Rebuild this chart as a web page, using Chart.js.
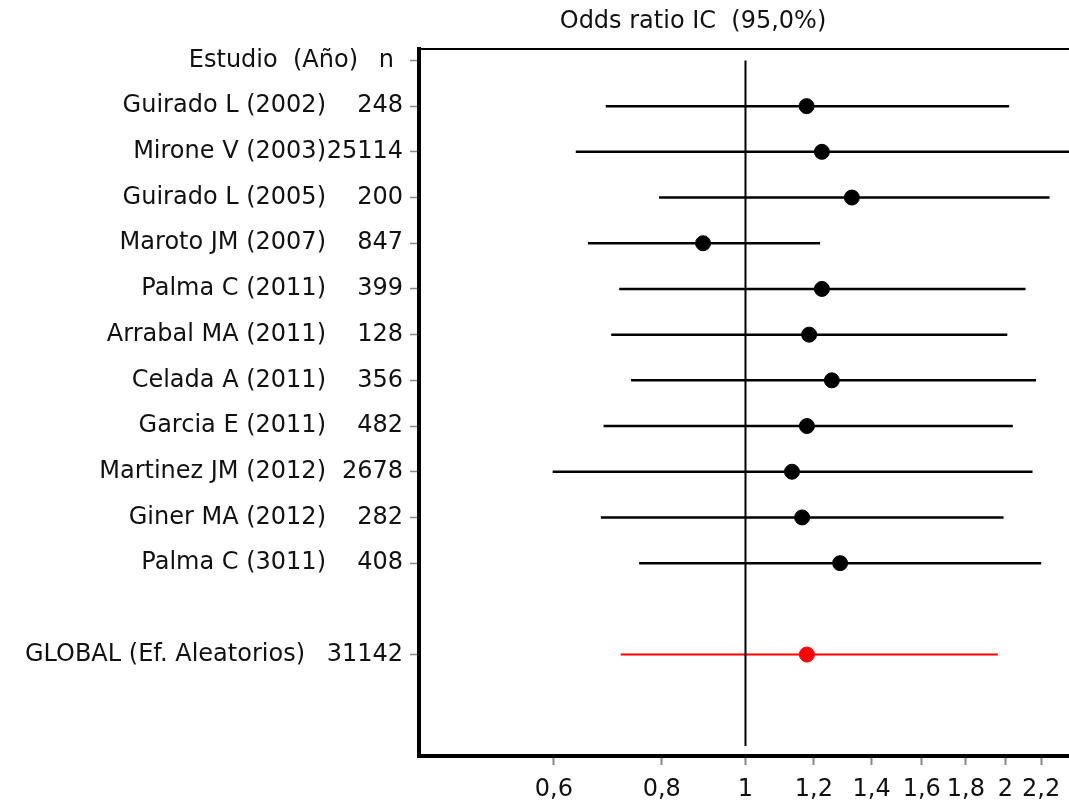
<!DOCTYPE html>
<html>
<head>
<meta charset="utf-8">
<script src="https://cdn.jsdelivr.net/npm/chart.js@4.4.1/dist/chart.umd.min.js"></script>
<style>
  html, body { margin: 0; padding: 0; background: #fff; }
  #wrap { width: 1069px; height: 802px; position: relative; }
</style>
</head>
<body>
<div id="wrap"><canvas id="forestChart"></canvas></div>
<script>
// Datos

const studies = ['Guirado L (2002)', 'Mirone V (2003)', 'Guirado L (2005)', 'Maroto JM (2007)',
    'Palma C (2011)', 'Arrabal MA (2011)', 'Celada A (2011)', 'Garcia E (2011)',
    'Martinez JM (2012)', 'Giner MA (2012)', 'Palma C (3011)'];
const nValues = [248, 25114, 200, 847, 399, 128, 356, 482, 2678, 282, 408];
const oddsRatio = [1.177, 1.226, 1.328, 0.893, 1.226, 1.185, 1.259, 1.178, 1.132, 1.163, 1.287];
const ciLow = [0.689, 0.636, 0.794, 0.657, 0.714, 0.699, 0.737, 0.685, 0.598, 0.680, 0.753];
const ciHigh = [2.02, 2.40, 2.25, 1.22, 2.11, 2.01, 2.17, 2.04, 2.15, 1.99, 2.20];

const globalLabel = 'GLOBAL (Ef. Aleatorios)';
const globalN = 31142;
const globalOR = 1.178;
const globalLow = 0.717;
const globalHigh = 1.96;

const xTicks = [0.6, 0.8, 1, 1.2, 1.4, 1.6, 1.8, 2, 2.2];
const globalRow = 13;

const FONT = 'DejaVu Sans';

// Series

const datasets = [];

// linea vertical en OR = 1
datasets.push({
    data: [{ x: 1, y: 0 }, { x: 1, y: 15 }],
    showLine: true,
    borderColor: '#000',
    borderWidth: 2,
    pointRadius: 0
});

studies.forEach((s, i) => {
    datasets.push({
        data: [{ x: ciLow[i], y: i + 1 }, { x: ciHigh[i], y: i + 1 }],
        showLine: true,
        borderColor: '#000',
        borderWidth: 2.5,
        pointRadius: 0
    });
});

datasets.push({
    data: [{ x: globalLow, y: globalRow }, { x: globalHigh, y: globalRow }],
    showLine: true,
    borderColor: '#ff0000',
    borderWidth: 2,
    pointRadius: 0
});

datasets.push({
    data: oddsRatio.map((v, i) => ({ x: v, y: i + 1 })),
    showLine: false,
    pointRadius: 7.5,
    pointBackgroundColor: '#000',
    pointBorderColor: '#000',
    pointBorderWidth: 1
});

datasets.push({
    data: [{ x: globalOR, y: globalRow }],
    showLine: false,
    pointRadius: 7.5,
    pointBackgroundColor: '#ff0000',
    pointBorderColor: '#ff0000',
    pointBorderWidth: 1
});

// Etiquetas de la izquierda y titulo

const labelsPlugin = {
    id: 'forestLabels',
    afterDraw(chart) {
        const ctx = chart.ctx;
        const y = chart.scales.y;
        ctx.save();
        ctx.fillStyle = '#111';
        ctx.font = '24px "' + FONT + '"';
        ctx.textBaseline = 'middle';

        ctx.textAlign = 'center';
        ctx.fillText('Odds ratio IC  (95,0%)', 693, 22);

        ctx.textAlign = 'right';
        ctx.fillText('Estudio  (Año)', 358, y.getPixelForValue(0));
        ctx.fillText('n', 394, y.getPixelForValue(0));

        studies.forEach((s, i) => {
            const py = y.getPixelForValue(i + 1);
            ctx.fillText(s, 326, py);
            ctx.fillText(String(nValues[i]), 403, py);
        });

        const gy = y.getPixelForValue(globalRow);
        ctx.fillText(globalLabel, 305, gy);
        ctx.fillText(String(globalN), 403, gy);
        ctx.restore();
    }
};

// Configuraciones

const config = {
    type: 'scatter',
    data: { datasets: datasets },
    options: {
        responsive: true,
        maintainAspectRatio: false,
        animation: false,
        layout: {
            autoPadding: false,
            padding: { left: 410, top: 49, right: 0, bottom: 0 }
        },
        plugins: {
            legend: { display: false },
            tooltip: { enabled: false },
            title: { display: false }
        },
        scales: {
            x: {
                type: 'logarithmic',
                min: 0.4187,
                max: 2.3695,
                afterBuildTicks: (scale) => {
                    scale.ticks = xTicks.map(v => ({ value: v }));
                },
                afterFit: (scale) => {
                    scale.paddingLeft = 0;
                    scale.paddingRight = 0;
                    scale.height = 46;
                },
                ticks: {
                    autoSkip: false,
                    maxRotation: 0,
                    padding: 13,
                    color: '#111',
                    font: { family: FONT, size: 24, lineHeight: 1 },
                    callback: (v) => String(v).replace('.', ',')
                },
                grid: {
                    drawOnChartArea: false,
                    tickLength: 9,
                    tickColor: '#888',
                    tickWidth: 2
                },
                border: { color: '#000', width: 4 }
            },
            x2: {
                type: 'linear',
                position: 'top',
                min: 0,
                max: 1,
                ticks: { display: false },
                grid: { drawOnChartArea: false, drawTicks: false },
                border: { color: '#000', width: 2 }
            },
            y: {
                type: 'linear',
                reverse: true,
                min: -0.25,
                max: 15.22,
                afterBuildTicks: (scale) => {
                    const rows = studies.map((s, i) => i + 1);
                    scale.ticks = [0].concat(rows, [globalRow]).map(v => ({ value: v }));
                },
                ticks: { display: false },
                grid: {
                    drawOnChartArea: false,
                    tickLength: 9,
                    tickColor: '#888',
                    tickWidth: 1.5
                },
                border: { color: '#000', width: 4 }
            }
        }
    },
    plugins: [labelsPlugin]
};

// Inicialización

const ctx = document.getElementById('forestChart').getContext('2d');
const forestChart = new Chart(ctx, config);
</script>
</body>
</html>
